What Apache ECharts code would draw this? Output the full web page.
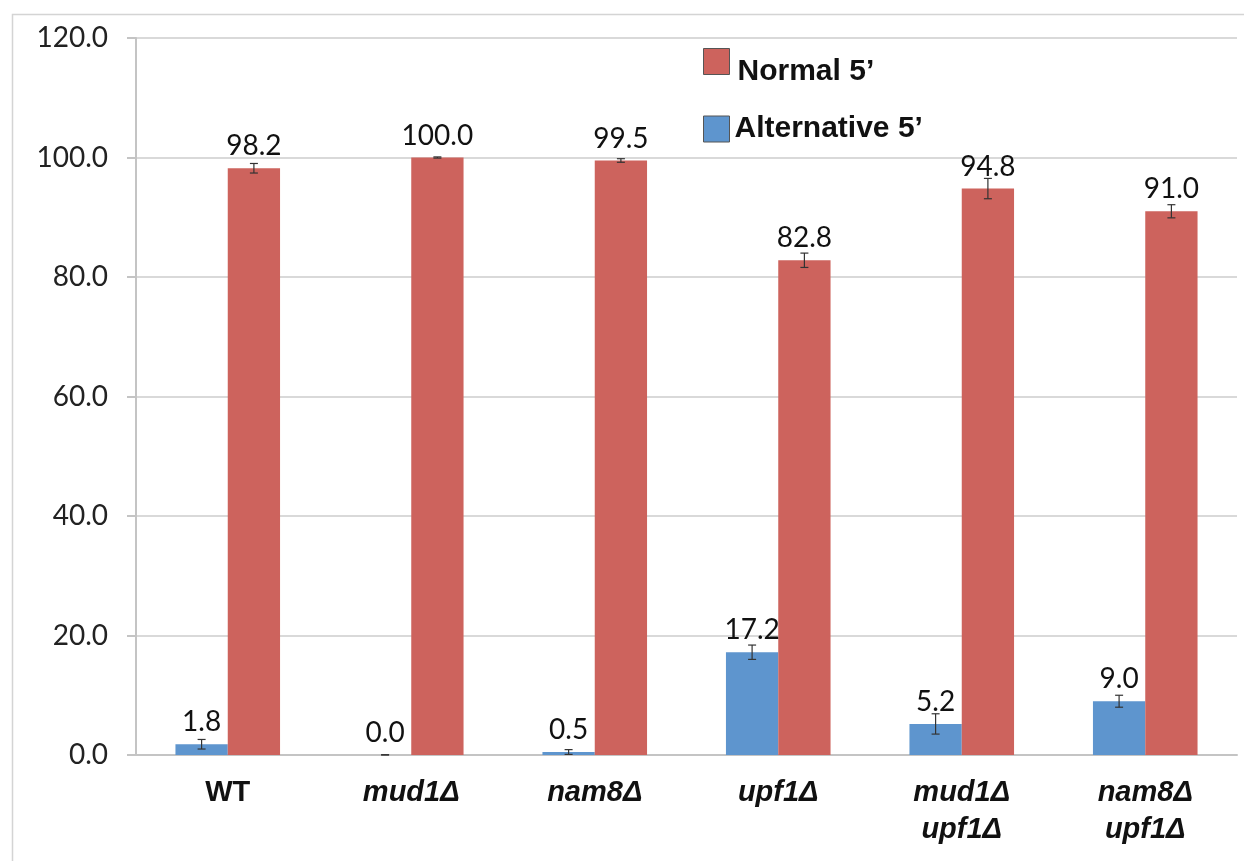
<!DOCTYPE html>
<html><head><meta charset="utf-8">
<script src="https://cdn.jsdelivr.net/npm/echarts@6/dist/echarts.min.js"></script>
<style>html,body{margin:0;padding:0;background:#fff;}#c{width:1244px;height:861px;}</style>
</head><body><div id="c"></div>
<script>
var categories = ['WT', 'mud1Δ', 'nam8Δ', 'upf1Δ', 'mud1Δ\nupf1Δ', 'nam8Δ\nupf1Δ'];
var altValues = [1.8, 0.0, 0.5, 17.2, 5.2, 9.0];
var altErr = [0.8, 0.05, 0.4, 1.2, 1.7, 1.0];
var normValues = [98.2, 100.0, 99.5, 82.8, 94.8, 91.0];
var normErr = [0.8, 0.1, 0.3, 1.2, 1.7, 1.1];
var yTicks = [0, 20, 40, 60, 80, 100, 120];

var BLUE = '#5E95CE', RED = '#CD635D';
var catGap = 0.43;

function errSeries(name, vals, errs, side) {
  var data = vals.map(function (v, i) { return [i, v, errs[i]]; });
  return {
    type: 'custom', name: name + ' err', z: 5, silent: true,
    data: data,
    renderItem: function (params, api) {
      var i = api.value(0), v = api.value(1), e = api.value(2);
      var band = api.size([1, 0])[0];
      var bw = band * (1 - catGap) / 2;
      var base = api.coord([i, v]);
      var x = base[0] + side * bw / 2;
      var top = api.coord([i, v + e])[1];
      var bot = api.coord([i, Math.max(v - e, 0)])[1];
      var cap = 4;
      var st = { stroke: '#333', lineWidth: 1.2 };
      return { type: 'group', children: [
        { type: 'line', shape: { x1: x, y1: top, x2: x, y2: bot }, style: st },
        { type: 'line', shape: { x1: x - cap, y1: top, x2: x + cap, y2: top }, style: st },
        { type: 'line', shape: { x1: x - cap, y1: bot, x2: x + cap, y2: bot }, style: st }
      ]};
    }
  };
}

var labelStyle = {
  show: true, position: 'top', distance: 8,
  fontFamily: 'Lato', fontSize: 28, color: '#111',
  formatter: function (p) { return p.value.toFixed(1); }
};

var chart = echarts.init(document.getElementById('c'), null, { renderer: 'canvas' });
chart.setOption({
  animation: false,
  backgroundColor: '#fff',
  graphic: [{
    type: 'rect', left: 10, top: 12, z: -10, silent: true,
    shape: { width: 1300, height: 900 },
    style: { fill: 'none', stroke: '#d4d4d4', lineWidth: 1.5 }
  }],
  grid: { left: 136, right: 7, top: 38, bottom: 106, containLabel: false },
  legend: [
    {
      data: [{ name: 'Normal 5’', icon: 'rect', itemStyle: { color: RED, borderColor: '#555', borderWidth: 1 } }],
      left: 698, top: 43, itemWidth: 26, itemHeight: 26, orient: 'vertical', selectedMode: false,
      formatter: '{a|{name}}',
      textStyle: {
        fontFamily: 'Liberation Sans', fontWeight: 'bold', fontSize: 30, color: '#111',
        rich: { a: { fontFamily: 'Liberation Sans', fontWeight: 'bold', fontSize: 30, color: '#111', padding: [20, 0, 0, 3] } }
      }
    },
    {
      data: [{ name: 'Alternative 5’', icon: 'rect', itemStyle: { color: BLUE, borderColor: '#555', borderWidth: 1 } }],
      left: 698, top: 109, itemWidth: 26, itemHeight: 26, orient: 'vertical', selectedMode: false,
      textStyle: { fontFamily: 'Liberation Sans', fontWeight: 'bold', fontSize: 30, color: '#111', padding: [2, 0, 0, 0] }
    }
  ],
  xAxis: {
    type: 'category', data: categories,
    axisLine: { show: true, lineStyle: { color: '#c4c4c4', width: 2 } },
    axisTick: { show: false },
    axisLabel: {
      margin: 19, interval: 0,
      formatter: function (v) {
        if (v === 'WT') return '{n|WT}';
        return v.split('\n').map(function (s) { return '{i|' + s + '}'; }).join('\n');
      },
      rich: {
        n: { fontFamily: 'Liberation Sans', fontWeight: 'bold', fontSize: 29, color: '#111', lineHeight: 37 },
        i: { fontFamily: 'Liberation Sans', fontWeight: 'bold', fontStyle: 'italic', fontSize: 29, color: '#111', lineHeight: 37 }
      }
    }
  },
  yAxis: {
    type: 'value', min: yTicks[0], max: yTicks[yTicks.length - 1], interval: yTicks[1] - yTicks[0],
    axisLine: { show: true, lineStyle: { color: '#c4c4c4', width: 2 } },
    axisTick: { show: true, length: 9, lineStyle: { color: '#c4c4c4', width: 2 } },
    splitLine: { lineStyle: { color: '#cccccc', width: 1.5 } },
    axisLabel: {
      margin: 28, fontFamily: 'Lato', fontSize: 28, color: '#222',
      formatter: function (v) { return v.toFixed(1); }
    }
  },
  series: [
    {
      name: 'Alternative 5’', type: 'bar', data: altValues,
      barGap: '0%', barCategoryGap: (catGap * 100) + '%',
      itemStyle: { color: BLUE }, label: labelStyle
    },
    {
      name: 'Normal 5’', type: 'bar', data: normValues,
      barGap: '0%', barCategoryGap: (catGap * 100) + '%',
      itemStyle: { color: RED }, label: labelStyle
    },
    errSeries('Alternative 5’', altValues, altErr, -1),
    errSeries('Normal 5’', normValues, normErr, 1)
  ]
});
</script>
</body></html>
